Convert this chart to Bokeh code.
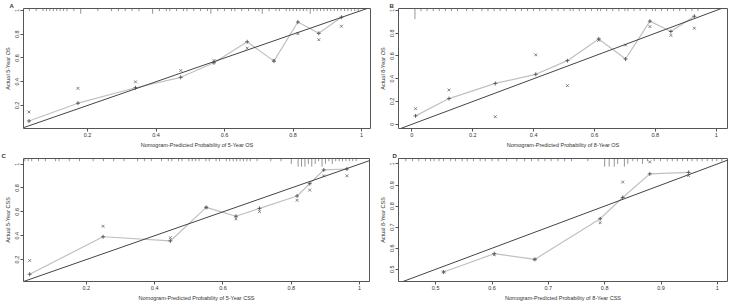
from bokeh.plotting import figure
from bokeh.layouts import column, row
from bokeh.models import Range1d, FixedTicker, Slope
from bokeh.embed import file_html
from bokeh.resources import INLINE

# ---------------- data ----------------
# Panel A: 5-year OS
a_pred = [0.029, 0.172, 0.340, 0.472, 0.569, 0.666, 0.744, 0.814, 0.875, 0.941]
a_obs = [0.069, 0.219, 0.349, 0.437, 0.559, 0.736, 0.573, 0.902, 0.807, 0.943]
a_corr = [0.145, 0.344, 0.398, 0.494, 0.578, 0.682, 0.581, 0.804, 0.753, 0.867]
a_rug = [0.03, 0.05, 0.07, 0.08, 0.09, 0.10, 0.11, 0.12, 0.13, 0.14, 0.16, 0.18, 0.23, 0.27,
         0.29, 0.31, 0.33, 0.35, 0.39, 0.41, 0.43, 0.44, 0.46, 0.48, 0.49, 0.51, 0.53, 0.55,
         0.56, 0.58, 0.60, 0.62, 0.63, 0.65, 0.67, 0.69, 0.70, 0.71, 0.73, 0.75, 0.76, 0.78,
         0.79, 0.80, 0.81, 0.82, 0.83, 0.84, 0.85, 0.86, 0.87, 0.88, 0.89, 0.90, 0.91, 0.92,
         0.93, 0.94, 0.95, 0.96, 0.97, 0.98, 0.99]
a_rug_n = [1, 1, 1, 1, 1, 1, 1, 1, 1, 1, 1, 2, 1, 1,
           1, 1, 1, 1, 2, 1, 1, 1, 1, 1, 1, 1, 1, 1,
           2, 1, 1, 1, 1, 1, 1, 1, 1, 2, 1, 1, 1, 1,
           1, 1, 1, 1, 1, 1, 2, 1, 1, 1, 1, 1, 1, 1,
           1, 1, 1, 1, 1, 1, 1]

# Panel B: 8-year OS
b_pred = [0.012, 0.122, 0.274, 0.407, 0.511, 0.614, 0.702, 0.782, 0.851, 0.928]
b_obs = [0.074, 0.226, 0.359, 0.439, 0.559, 0.750, 0.573, 0.906, 0.815, 0.949]
b_corr = [0.137, 0.302, 0.066, 0.610, 0.339, 0.738, 0.696, 0.858, 0.781, 0.844]
b_rug = [0.01, 0.03, 0.05, 0.07, 0.09, 0.11, 0.13, 0.15, 0.18, 0.20, 0.23, 0.25, 0.27, 0.29,
         0.31, 0.34, 0.36, 0.38, 0.40, 0.42, 0.44, 0.46, 0.48, 0.50, 0.52, 0.53, 0.55, 0.57,
         0.59, 0.61, 0.62, 0.64, 0.66, 0.68, 0.70, 0.71, 0.73, 0.75, 0.77, 0.79, 0.80, 0.82,
         0.84, 0.86, 0.88, 0.90, 0.92, 0.94]
b_rug_n = [4, 1, 1, 1, 1, 1, 1, 1, 1, 1, 1, 1, 1, 1,
           1, 1, 1, 1, 1, 1, 1, 1, 1, 1, 1, 1, 1, 1,
           1, 1, 1, 1, 1, 1, 1, 1, 1, 1, 1, 1, 1, 1,
           1, 1, 1, 1, 1, 1]

# Panel C: 5-year CSS
c_pred = [0.034, 0.249, 0.446, 0.551, 0.638, 0.707, 0.817, 0.854, 0.895, 0.963]
c_obs = [0.077, 0.391, 0.356, 0.637, 0.563, 0.629, 0.733, 0.836, 0.951, 0.959]
c_corr = [0.192, 0.479, 0.383, 0.637, 0.541, 0.602, 0.697, 0.782, 0.902, 0.902]
c_rug = [0.02, 0.03, 0.04, 0.06, 0.08, 0.11, 0.12, 0.15, 0.18, 0.22, 0.25, 0.28, 0.31, 0.35,
         0.37, 0.39, 0.42, 0.44, 0.45, 0.47, 0.48, 0.50, 0.51, 0.52, 0.53, 0.55, 0.56, 0.58,
         0.59, 0.61, 0.62, 0.63, 0.64, 0.65, 0.66, 0.67, 0.68, 0.70, 0.74, 0.77, 0.80, 0.82,
         0.83, 0.84, 0.85, 0.86, 0.87, 0.88, 0.89, 0.90, 0.91, 0.92, 0.93, 0.94, 0.95, 0.96,
         0.97, 0.98, 0.99]
c_rug_n = [1, 1, 1, 1, 1, 1, 1, 1, 1, 1, 1, 1, 1, 1,
           1, 1, 1, 1, 1, 1, 1, 1, 1, 1, 1, 1, 1, 1,
           1, 1, 1, 1, 1, 1, 1, 1, 1, 1, 1, 1, 2, 3,
           3, 3, 2, 3, 2, 1, 3, 2, 1, 2, 1, 1, 1, 1,
           1, 1, 1]

# Panel D: 8-year CSS
d_pred = [0.514, 0.604, 0.676, 0.792, 0.832, 0.880, 0.949]
d_obs = [0.487, 0.574, 0.547, 0.740, 0.841, 0.953, 0.960]
d_corr = [0.487, 0.570, 0.547, 0.721, 0.914, 1.010, 0.945]
d_rug = [0.447, 0.459, 0.470, 0.482, 0.491, 0.497, 0.506, 0.514, 0.526, 0.535, 0.547, 0.556,
         0.567, 0.579, 0.588, 0.600, 0.611, 0.626, 0.644, 0.658, 0.670, 0.682, 0.694, 0.705,
         0.717, 0.729, 0.741, 0.770, 0.800, 0.808, 0.817, 0.823, 0.835, 0.841, 0.850, 0.858,
         0.867, 0.876, 0.888, 0.899, 0.911, 0.920, 0.929, 0.938, 0.947, 0.955, 0.964, 0.973,
         0.982, 0.991, 0.999, 1.008]
d_rug_n = [1, 1, 1, 1, 1, 1, 1, 1, 1, 1, 1, 1,
           1, 1, 1, 1, 1, 1, 1, 1, 1, 1, 1, 1,
           1, 1, 1, 1, 3, 3, 3, 2, 3, 2, 1, 1,
           2, 1, 1, 1, 1, 1, 1, 1, 1, 1, 1, 1,
           1, 1, 1, 1]

# ---------------- styling ----------------
FONT = "Liberation Sans"
TXT = "#333333"
BOX = "#555555"


def panel(letter, xr, yr, xt, yt, pred, obs, corr, rug, rug_n, xlabel, ylabel,
          width, height, borders, letter_dx):
    left, right, top, bottom = borders
    p = figure(width=width, height=height, output_backend="svg", toolbar_location=None,
               x_range=Range1d(*xr), y_range=Range1d(*yr),
               min_border_left=left, min_border_right=right,
               min_border_top=top, min_border_bottom=bottom)
    p.grid.visible = False
    p.outline_line_color = BOX
    p.outline_line_width = 1
    p.background_fill_color = "white"
    p.border_fill_color = "white"
    for ax, ticks, lab in ((p.xaxis, xt, xlabel), (p.yaxis, yt, ylabel)):
        ax.ticker = FixedTicker(ticks=ticks)
        ax.axis_label = lab
        ax.axis_line_color = None
        ax.major_tick_line_color = BOX
        ax.major_tick_out = 3
        ax.major_tick_in = 0
        ax.minor_tick_line_color = None
        ax.major_label_text_font = FONT
        ax.major_label_text_font_size = "5.5px"
        ax.major_label_text_color = TXT
        ax.major_label_standoff = 1
        ax.axis_label_text_font = FONT
        ax.axis_label_text_font_size = "5.5px"
        ax.axis_label_text_font_style = "normal"
        ax.axis_label_text_color = TXT
        ax.axis_label_standoff = 2
    p.yaxis.major_label_orientation = "vertical"

    # panel letter as a small title, pushed left of the frame
    p.title.text = letter
    p.title.align = "left"
    p.title.offset = letter_dx
    p.title.standoff = 0
    p.title.text_font = FONT
    p.title.text_font_size = "6px"
    p.title.text_font_style = "bold"
    p.title.text_color = TXT

    # rug of predicted probabilities hanging from the top border
    unit = (yr[1] - yr[0]) * 0.022
    p.segment(x0=rug, x1=rug, y0=[yr[1]] * len(rug),
              y1=[yr[1] - n * unit for n in rug_n], line_color="#666666", line_width=0.7)

    # ideal line
    p.add_layout(Slope(gradient=1, y_intercept=0, line_color="#444444", line_width=1))

    # apparent calibration
    p.line(pred, obs, line_color="#c0c0c0", line_width=1.2)
    p.scatter(pred, obs, marker="cross", size=4, line_color="#444444", line_width=0.8)
    # bias-corrected
    p.scatter(pred, corr, marker="x", size=4, line_color="#666666", line_width=0.8)
    return p


pA = panel("A", (0.013, 1.026), (0.006, 1.016), [0.2, 0.4, 0.6, 0.8, 1.0],
           [0.2, 0.4, 0.6, 0.8, 1.0], a_pred, a_obs, a_corr, a_rug, a_rug_n,
           "Nomogram-Predicted Probability of 5-Year OS", "Actual 5-Year OS",
           376, 150, (23, 6, 5, 22), -14)
pB = panel("B", (-0.044, 1.037), (-0.037, 1.017), [0.0, 0.2, 0.4, 0.6, 0.8, 1.0],
           [0.0, 0.2, 0.4, 0.6, 0.8, 1.0], b_pred, b_obs, b_corr, b_rug, b_rug_n,
           "Nomogram-Predicted Probability of 8-Year OS", "Actual 8-Year OS",
           354, 150, (20, 3, 5, 22), -9)
pC = panel("C", (0.016, 1.029), (0.016, 1.047), [0.2, 0.4, 0.6, 0.8, 1.0],
           [0.2, 0.4, 0.6, 0.8, 1.0], c_pred, c_obs, c_corr, c_rug, c_rug_n,
           "Nomogram-Predicted Probability of 5-Year CSS", "Actual 5-Year CSS",
           376, 155, (23, 7, 5, 24), -22)
pD = panel("D", (0.434, 1.018), (0.442, 1.026), [0.5, 0.6, 0.7, 0.8, 0.9, 1.0],
           [0.5, 0.6, 0.7, 0.8, 0.9, 1.0], d_pred, d_obs, d_corr, d_rug, d_rug_n,
           "Nomogram-Predicted Probability of 8-Year CSS", "Actual 8-Year CSS",
           354, 155, (20, 3, 5, 24), -6)

layout = column(row(pA, pB, spacing=0), row(pC, pD, spacing=0), spacing=0)
open("out.html", "w").write(file_html(layout, INLINE))
